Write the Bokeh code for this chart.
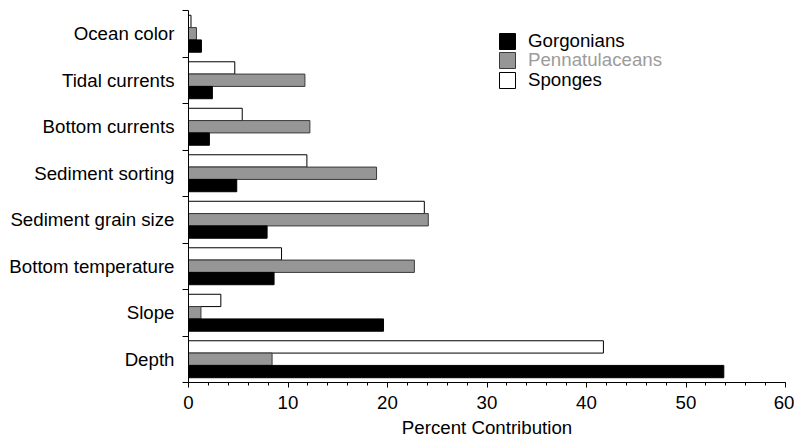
from bokeh.plotting import figure
from bokeh.models import (ColumnDataSource, FixedTicker, SingleIntervalTicker,
                          Range1d, Legend, LegendItem)
from bokeh.transform import dodge
from bokeh.embed import file_html
from bokeh.resources import INLINE

# categories, bottom to top
categories = ["Depth", "Slope", "Bottom temperature", "Sediment grain size",
              "Sediment sorting", "Bottom currents", "Tidal currents", "Ocean color"]
gorgonians = [53.8, 19.6, 8.6, 7.9, 4.85, 2.1, 2.4, 1.3]
pennatulaceans = [8.4, 1.25, 22.7, 24.1, 18.9, 12.2, 11.7, 0.8]
sponges = [41.7, 3.25, 9.35, 23.7, 11.9, 5.4, 4.65, 0.25]
x_ticks = [0, 10, 20, 30, 40, 50, 60]

FONT = "Liberation Sans"
FS = "18.7px"

pos = [i + 0.5 for i in range(len(categories))]
src = ColumnDataSource(dict(y=pos, g=gorgonians, p=pennatulaceans, s=sponges))

p = figure(frame_width=597, frame_height=372, output_backend="svg",
           toolbar_location=None, x_range=Range1d(0, 60),
           y_range=Range1d(0, len(categories)),
           min_border_left=188, min_border_right=9, min_border_top=10,
           min_border_bottom=52)
p.outline_line_color = None
p.xgrid.visible = False
p.ygrid.visible = False

bh = 0.265
r_s = p.hbar(y=dodge("y", bh, range=p.y_range), left=0, right="s", height=bh, source=src,
             fill_color="white", line_color="black", line_width=1)
r_p = p.hbar(y=dodge("y", 0, range=p.y_range), left=0, right="p", height=bh, source=src,
             fill_color="#969696", line_color="#3a3a3a", line_width=1)
r_g = p.hbar(y=dodge("y", -bh, range=p.y_range), left=0, right="g", height=bh, source=src,
             fill_color="black", line_color="black", line_width=1)

# y axis: labels at group centres, ticks at group boundaries
ya = p.yaxis[0]
ya.ticker = FixedTicker(ticks=pos, minor_ticks=list(range(len(categories) + 1)))
ya.major_label_overrides = {v: c for v, c in zip(pos, categories)}
ya.major_tick_line_color = None
ya.major_tick_out = 6
ya.major_tick_in = 0
ya.minor_tick_out = 6
ya.minor_tick_in = 0
ya.minor_tick_line_color = "black"
ya.major_label_standoff = 8
ya.major_label_text_font = FONT
ya.major_label_text_font_size = FS
ya.major_label_text_color = "black"
ya.axis_line_color = "black"

xa = p.xaxis[0]
xa.ticker = SingleIntervalTicker(interval=10, num_minor_ticks=5)
xa.major_tick_out = 5
xa.major_tick_in = 0
xa.minor_tick_out = 3
xa.minor_tick_in = 0
xa.major_tick_line_color = "black"
xa.minor_tick_line_color = "black"
xa.major_label_standoff = 8
xa.major_label_text_font = FONT
xa.major_label_text_font_size = FS
xa.major_label_text_color = "black"
xa.axis_label = "Percent Contribution"
xa.axis_label_text_font = FONT
xa.axis_label_text_font_size = FS
xa.axis_label_text_font_style = "normal"
xa.axis_label_text_color = "black"
xa.axis_label_standoff = 5
xa.axis_line_color = "black"

def add_legend(label, renderer, color, y):
    lg = Legend(items=[LegendItem(label=label, renderers=[renderer])],
                location=(309, y), orientation="vertical",
                glyph_width=20, glyph_height=20, label_height=20,
                label_standoff=11, padding=0, margin=0, spacing=0,
                border_line_color=None, background_fill_alpha=0,
                label_text_font=FONT, label_text_font_size=FS,
                label_text_color=color, label_text_baseline="middle")
    p.add_layout(lg, "center")

add_legend("Gorgonians", r_g, "black", 330)
add_legend("Pennatulaceans", r_p, "#9c9c9c", 311)
add_legend("Sponges", r_s, "black", 291)

open("out.html", "w").write(file_html(p, INLINE))
